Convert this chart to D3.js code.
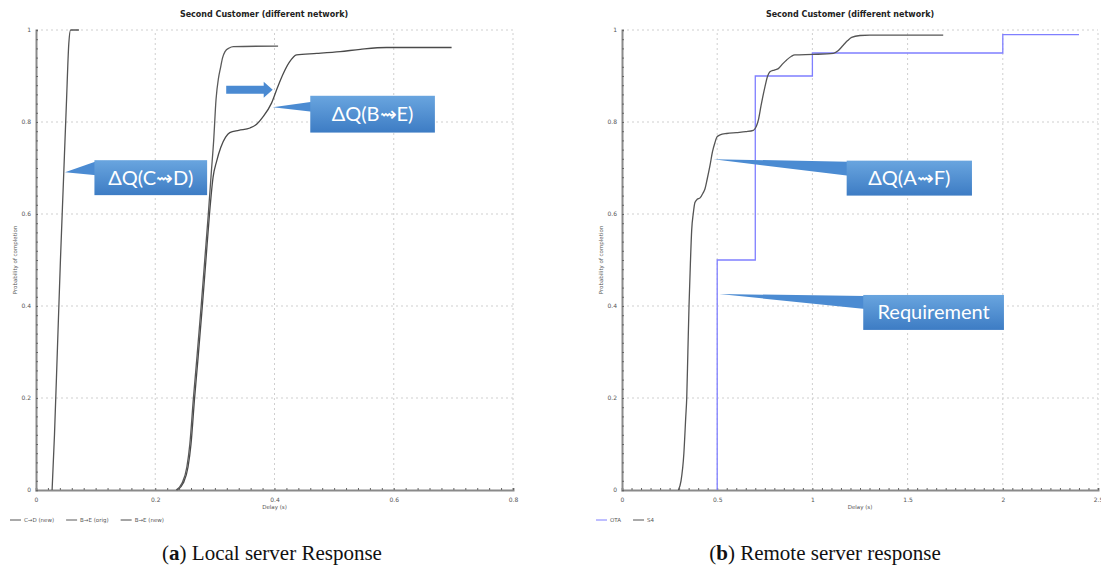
<!DOCTYPE html>
<html>
<head>
  <meta charset="utf-8">
  <title>Second Customer (different network)</title>
  <script src="https://cdn.jsdelivr.net/npm/d3@7"></script>
  <style>
    body { margin: 0; background: #fff; }
    text { font-family: "DejaVu Sans", sans-serif; }
  </style>
</head>
<body>
<script>
  // ---- data (delay in s, probability of completion) ----
  var cdNew = [[0.027, 0], [0.031, 0.12], [0.036, 0.31], [0.041, 0.5], [0.046, 0.67],
    [0.051, 0.84], [0.055, 0.97], [0.058, 1], [0.072, 1]];
  var beOrig = [[0.235, 0], [0.245, 0.015], [0.253, 0.05], [0.258, 0.1], [0.264, 0.2],
    [0.27, 0.29], [0.277, 0.4], [0.283, 0.5], [0.289, 0.6], [0.294, 0.69], [0.298, 0.76],
    [0.302, 0.85], [0.306, 0.895], [0.309, 0.915], [0.313, 0.94], [0.317, 0.953],
    [0.324, 0.961], [0.331, 0.964], [0.406, 0.965]];
  var beNew = [[0.237, 0], [0.247, 0.015], [0.255, 0.05], [0.26, 0.1], [0.266, 0.2],
    [0.272, 0.29], [0.279, 0.4], [0.285, 0.5], [0.291, 0.6], [0.297, 0.68], [0.303, 0.715],
    [0.31, 0.745], [0.318, 0.767], [0.325, 0.777], [0.34, 0.782], [0.359, 0.787],
    [0.37, 0.795], [0.38, 0.81], [0.395, 0.841], [0.405, 0.875], [0.415, 0.906],
    [0.425, 0.93], [0.437, 0.946], [0.471, 0.949], [0.51, 0.953], [0.544, 0.958],
    [0.588, 0.962], [0.697, 0.962]];
  var ota = [[0.5, 0], [0.5, 0.5], [0.7, 0.9], [1.0, 0.95], [2.0, 0.99], [2.4, 0.99]];
  var s4 = [[0.296, 0], [0.31, 0.02], [0.325, 0.08], [0.335, 0.16], [0.34, 0.2],
    [0.346, 0.3], [0.352, 0.4], [0.359, 0.49], [0.366, 0.565], [0.374, 0.6], [0.383, 0.625],
    [0.395, 0.632], [0.41, 0.635], [0.425, 0.645], [0.436, 0.655], [0.447, 0.675],
    [0.462, 0.705], [0.475, 0.735], [0.488, 0.755], [0.5, 0.768], [0.515, 0.772],
    [0.55, 0.775], [0.6, 0.777], [0.65, 0.779], [0.69, 0.782], [0.705, 0.79], [0.716, 0.804],
    [0.73, 0.835], [0.751, 0.877], [0.765, 0.9], [0.777, 0.909], [0.8, 0.913], [0.821, 0.916],
    [0.845, 0.927], [0.865, 0.935], [0.89, 0.943], [0.908, 0.946], [1.005, 0.947],
    [1.11, 0.949], [1.135, 0.955], [1.162, 0.967], [1.185, 0.977], [1.206, 0.984],
    [1.25, 0.988], [1.302, 0.989], [1.687, 0.989]];

  var leftTicks = [0, 0.2, 0.4, 0.6, 0.8];
  var rightTicks = [0, 0.5, 1, 1.5, 2, 2.5];
  var yTicks = [0, 0.2, 0.4, 0.6, 0.8, 1];
  var title = "Second Customer (different network)";

  var width = 1101, height = 572;
  var svg = d3.select("body").append("svg")
    .attr("width", width).attr("height", height);

  var defs = svg.append("defs");
  var grad = defs.append("linearGradient").attr("id", "boxGrad")
    .attr("x1", 0).attr("y1", 0).attr("x2", 0).attr("y2", 1);
  grad.append("stop").attr("offset", "0%").attr("stop-color", "#69a5df");
  grad.append("stop").attr("offset", "100%").attr("stop-color", "#3d7cc4");

  function drawPanel(opt) {
    var x = d3.scaleLinear().domain(opt.xDomain).range(opt.xRange);
    var y = d3.scaleLinear().domain([0, 1]).range([490, 30]);
    var g = svg.append("g");

    // grid
    g.selectAll(".gx").data(opt.xTicks.slice(1)).enter().append("line")
      .attr("x1", function(d) { return x(d); }).attr("x2", function(d) { return x(d); })
      .attr("y1", y(0)).attr("y2", y(1))
      .attr("stroke", "#cfcfcf").attr("stroke-dasharray", "2,3");
    g.selectAll(".gy").data(yTicks.slice(1)).enter().append("line")
      .attr("x1", x.range()[0]).attr("x2", x.range()[1])
      .attr("y1", function(d) { return y(d); }).attr("y2", function(d) { return y(d); })
      .attr("stroke", "#cfcfcf").attr("stroke-dasharray", "2,3");

    // axes
    var xAxis = g.append("g").attr("transform", "translate(0," + y(0) + ")")
      .call(d3.axisTop(x).tickValues(d3.range(opt.xDomain[0], opt.xDomain[1] + 1e-9, opt.xMinor))
        .tickSize(2).tickFormat(""));
    var xLab = g.append("g").attr("transform", "translate(0," + y(0) + ")")
      .call(d3.axisBottom(x).tickValues(opt.xTicks).tickSize(0).tickPadding(8)
        .tickFormat(d3.format("~g")));
    var yAxis = g.append("g").attr("transform", "translate(" + x.range()[0] + ",0)")
      .call(d3.axisRight(y).tickValues(d3.range(0, 1.0001, 0.02)).tickSize(2).tickFormat(""));
    var yLab = g.append("g").attr("transform", "translate(" + x.range()[0] + ",0)")
      .call(d3.axisLeft(y).tickValues(yTicks).tickSize(0).tickPadding(5)
        .tickFormat(d3.format("~g")));
    [xAxis, yAxis].forEach(function(a) {
      a.select(".domain").attr("stroke", "#8a8a8a").attr("stroke-width", 2);
      a.selectAll(".tick line").attr("stroke", "#666");
    });
    [xLab, yLab].forEach(function(a) {
      a.select(".domain").remove();
      a.selectAll("text").attr("fill", "#555").style("font-size", "6px");
    });

    // titles
    g.append("text").attr("x", opt.titleX).attr("y", 17).attr("text-anchor", "middle")
      .style("font-size", "8px").style("font-weight", "bold").attr("fill", "#222").text(title);
    g.append("text").attr("x", (x.range()[0] + x.range()[1]) / 2).attr("y", 509)
      .attr("text-anchor", "middle").style("font-size", "5.5px").attr("fill", "#555")
      .text("Delay (s)");
    g.append("text").attr("transform", "translate(" + (x.range()[0] - 19) + ",260) rotate(-90)")
      .attr("text-anchor", "middle").style("font-size", "5.5px").attr("fill", "#555")
      .text("Probability of completion");

    // series
    opt.series.forEach(function(s) {
      var line = d3.line()
        .x(function(d) { return x(d[0]); })
        .y(function(d) { return y(d[1]); })
        .curve(s.step ? d3.curveStepAfter : d3.curveMonotoneX);
      g.append("path").datum(s.data).attr("d", line)
        .attr("fill", "none").attr("stroke", s.color).attr("stroke-width", 1.3);
    });

    // legend
    var lx = opt.legendX;
    opt.series.forEach(function(s) {
      g.append("line").attr("x1", lx).attr("x2", lx + 11).attr("y1", 520).attr("y2", 520)
        .attr("stroke", s.color).attr("stroke-width", 1);
      var t = g.append("text").attr("x", lx + 14).attr("y", 522).style("font-size", "5.5px")
        .attr("fill", "#555").text(s.name);
      lx += 14 + t.node().getComputedTextLength() + 12;
    });

    // callouts
    opt.callouts.forEach(function(c) {
      var bx0 = x(c.box[0]), bx1 = x(c.box[1]), by0 = y(c.box[2]), by1 = y(c.box[3]);
      var tx = x(c.tip[0]), ty = y(c.tip[1]);
      g.append("path")
        .attr("d", "M" + tx + "," + ty + "L" + (bx0 + 2) + "," + (by0 + c.base[0]) +
          "L" + (bx0 + 2) + "," + (by0 + c.base[1]) + "Z")
        .attr("fill", "#4b8bd2");
      g.append("rect").attr("x", bx0).attr("y", by0)
        .attr("width", bx1 - bx0).attr("height", by1 - by0).attr("fill", "url(#boxGrad)");
      g.append("text").attr("x", (bx0 + bx1) / 2).attr("y", (by0 + by1) / 2 + 7)
        .attr("text-anchor", "middle").attr("fill", "#fff")
        .style("font-family", "Lato, 'Open Sans', sans-serif").style("font-size", "20px")
        .text(c.label);
    });

    if (opt.arrow) {
      var a = opt.arrow, ax0 = x(a[0]), ax1 = x(a[1]), ay = y(a[2]);
      g.append("path")
        .attr("d", "M" + ax0 + "," + (ay - 4) + "L" + (ax1 - 9) + "," + (ay - 4) +
          "L" + (ax1 - 9) + "," + (ay - 8) + "L" + ax1 + "," + ay +
          "L" + (ax1 - 9) + "," + (ay + 8) + "L" + (ax1 - 9) + "," + (ay + 4) +
          "L" + ax0 + "," + (ay + 4) + "Z")
        .attr("fill", "#4a8ad2");
    }

    // caption
    svg.append("text").attr("x", opt.captionX).attr("y", 560).attr("text-anchor", "middle")
      .style("font-family", "'Liberation Serif', 'DejaVu Serif', serif").style("font-size", "21px")
      .attr("fill", "#111")
      .html("(<tspan font-weight='bold'>" + opt.captionTag + "</tspan>) " + opt.caption);
  }

  drawPanel({
    xDomain: [0, 0.8], xRange: [36, 513], xTicks: leftTicks, xMinor: 0.02,
    titleX: 264, legendX: 10, captionX: 272, captionTag: "a", caption: "Local server Response",
    series: [
      { name: "C\u2192D (new)", data: cdNew, color: "#555" },
      { name: "B\u2192E (orig)", data: beOrig, color: "#5a5a5a" },
      { name: "B\u2192E (new)", data: beNew, color: "#4a4a4a" }
    ],
    callouts: [
      { label: "\u0394Q(C\u21DDD)", tip: [0.0487, 0.691], box: [0.098, 0.287, 0.717, 0.641], base: [1, 15] },
      { label: "\u0394Q(B\u21DDE)", tip: [0.397, 0.832], box: [0.46, 0.669, 0.857, 0.777], base: [6, 16] }
    ],
    arrow: [0.319, 0.397, 0.870]
  });

  drawPanel({
    xDomain: [0, 2.5], xRange: [622, 1098], xTicks: rightTicks, xMinor: 0.05,
    titleX: 850, legendX: 596, captionX: 825, captionTag: "b", caption: "Remote server response",
    series: [
      { name: "OTA", data: ota, color: "#7f7fff", step: true },
      { name: "S4", data: s4, color: "#555" }
    ],
    callouts: [
      { label: "\u0394Q(A\u21DDF)", tip: [0.48, 0.719], box: [1.18, 1.838, 0.716, 0.64], base: [1, 15] },
      { label: "Requirement", tip: [0.511, 0.426], box: [1.267, 2.006, 0.424, 0.348], base: [1, 14] }
    ]
  });
</script>
</body>
</html>
